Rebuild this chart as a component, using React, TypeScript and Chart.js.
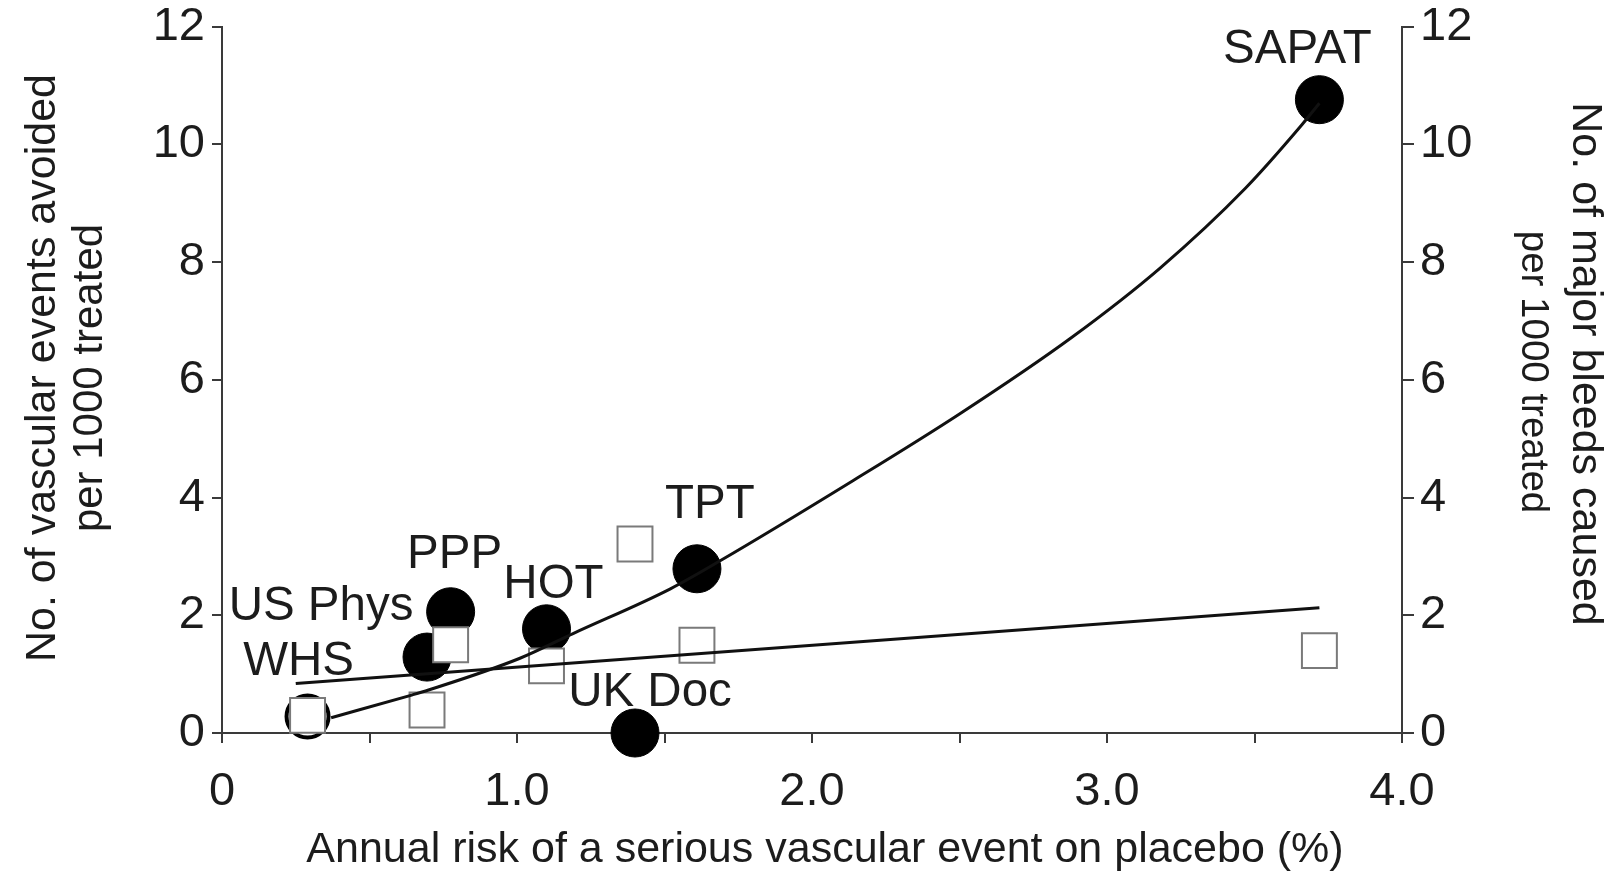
import React, { useEffect, useRef } from 'react';
import { Chart, registerables } from 'chart.js';

Chart.register(...registerables);

// ---------- data ----------
const trials = ['WHS', 'US Phys', 'PPP', 'HOT', 'UK Doc', 'TPT', 'SAPAT'];
const placeboRisk = [0.29, 0.695, 0.775, 1.10, 1.40, 1.61, 3.72];
const eventsAvoided = [0.28, 1.29, 2.06, 1.77, 0.0, 2.79, 10.76];
const bleedsCaused = [0.30, 0.39, 1.50, 1.14, 3.21, 1.49, 1.40];

// fitted curve (benefit)
const benefitFitX = [0.37, 0.64, 0.70, 1.01, 1.19, 1.52, 1.69, 2.14, 2.50, 2.88, 3.18, 3.47, 3.66, 3.72];
const benefitFitY = [0.26, 0.64, 0.73, 1.27, 1.69, 2.45, 2.93, 4.29, 5.42, 6.72, 7.90, 9.26, 10.33, 10.70];
// fitted line (bleeds)
const bleedFitX = [0.25, 3.72];
const bleedFitY = [0.84, 2.13];

const xTickValues = [0, 0.5, 1, 1.5, 2, 2.5, 3, 3.5, 4];
const xTickLabels = ['0', '', '1.0', '', '2.0', '', '3.0', '', '4.0'];
const yTickValues = [0, 2, 4, 6, 8, 10, 12];
const yTickLabels = ['0', '2', '4', '6', '8', '10', '12'];

const xTitle = 'Annual risk of a serious vascular event on placebo (%)';
const yLeftTitle = ['No. of vascular events avoided', 'per 1000 treated'];
const yRightTitle = ['No. of major bleeds caused', 'per 1000 treated'];

// ---------- style ----------
const W = 1613;
const H = 871;
const FONT = '"Liberation Sans", Arial, Helvetica, sans-serif';
const AXIS_COLOR = '#3a3a3a';
const TEXT_COLOR = '#1c1c1c';
const LABEL_OFFSETS: [number, number][] = [
  [-9, -42],
  [-106, -37],
  [4, -44],
  [7, -31],
  [15, -27],
  [13, -51],
  [-22, -37],
];
// rotated axis titles: [baselineX, centerY, fontSize] per line
const LEFT_TITLE_POS: [number, number, number][] = [
  [55, 368, 43],
  [102, 378, 42],
];
const RIGHT_TITLE_POS: [number, number, number][] = [
  [1573, 364, 43],
  [1522, 372, 38.5],
];
// x title: [centerX, baselineY, fontSize]
const X_TITLE_POS: [number, number, number] = [825, 862, 43];

const labelPlugin = {
  id: 'trialLabels',
  afterDatasetsDraw(chart: any) {
    const meta = chart.getDatasetMeta(0);
    const ctx = chart.ctx;
    ctx.save();
    ctx.font = `47.5px ${FONT}`;
    ctx.fillStyle = TEXT_COLOR;
    ctx.textAlign = 'center';
    ctx.textBaseline = 'alphabetic';
    meta.data.forEach((pt: any, i: number) => {
      const [dx, dy] = LABEL_OFFSETS[i];
      ctx.fillText(trials[i], pt.x + dx, pt.y + dy);
    });
    ctx.restore();
  },
};

const axisTitlesPlugin = {
  id: 'axisTitles',
  afterDraw(chart: any) {
    const ctx = chart.ctx;
    const draw = (lines: string[], pos: [number, number, number][], angle: number) => {
      lines.forEach((line, i) => {
        const [bx, cy, size] = pos[i];
        ctx.save();
        ctx.translate(bx, cy);
        ctx.rotate(angle);
        ctx.font = `${size}px ${FONT}`;
        ctx.fillStyle = TEXT_COLOR;
        ctx.textAlign = 'center';
        ctx.textBaseline = 'alphabetic';
        ctx.fillText(line, 0, 0);
        ctx.restore();
      });
    };
    draw(yLeftTitle, LEFT_TITLE_POS, -Math.PI / 2);
    draw(yRightTitle, RIGHT_TITLE_POS, Math.PI / 2);
    ctx.save();
    ctx.font = `${X_TITLE_POS[2]}px ${FONT}`;
    ctx.fillStyle = TEXT_COLOR;
    ctx.textAlign = 'center';
    ctx.textBaseline = 'alphabetic';
    ctx.fillText(xTitle, X_TITLE_POS[0], X_TITLE_POS[1]);
    ctx.restore();
  },
};

export default function App() {
  const ref = useRef<HTMLCanvasElement | null>(null);

  useEffect(() => {
    document.body.style.margin = '0';
    document.body.style.overflow = 'hidden';
    const canvas = ref.current;
    if (!canvas) return;

    const circlePoints = placeboRisk.map((x, i) => ({ x, y: eventsAvoided[i] }));
    const squarePoints = placeboRisk.map((x, i) => ({ x, y: bleedsCaused[i] }));
    const benefitCurve = benefitFitX.map((x, i) => ({ x, y: benefitFitY[i] }));
    const bleedLine = bleedFitX.map((x, i) => ({ x, y: bleedFitY[i] }));

    const gridOpts = (len: number) => ({
      drawOnChartArea: false,
      drawTicks: true,
      tickLength: len,
      color: AXIS_COLOR,
      lineWidth: 2,
    });
    const borderOpts = { display: true, color: AXIS_COLOR, width: 2 };

    const chart = new Chart(canvas, {
      type: 'scatter',
      data: {
        datasets: [
          {
            label: 'Vascular events avoided',
            data: circlePoints,
            yAxisID: 'y',
            pointStyle: 'circle',
            pointRadius: trials.map((t) => (t === 'WHS' ? 21 : 24)),
            pointBorderWidth: trials.map((t) => (t === 'WHS' ? 4 : 1)),
            pointBackgroundColor: trials.map((t) => (t === 'WHS' ? '#ffffff' : '#000000')),
            pointBorderColor: '#000000',
            showLine: false,
            clip: false,
            order: 3,
          } as any,
          {
            label: 'Major bleeds caused',
            data: squarePoints,
            yAxisID: 'y1',
            pointStyle: 'rect',
            pointRadius: 24.7,
            pointBorderWidth: 2,
            pointBackgroundColor: '#ffffff',
            pointBorderColor: '#7a7a7a',
            showLine: false,
            clip: false,
            order: 2,
          } as any,
          {
            label: 'Benefit fit',
            data: benefitCurve,
            yAxisID: 'y',
            showLine: true,
            pointRadius: 0,
            borderColor: '#111111',
            borderWidth: 3,
            cubicInterpolationMode: 'monotone',
            fill: false,
            clip: false,
            order: 1,
          } as any,
          {
            label: 'Bleed fit',
            data: bleedLine,
            yAxisID: 'y1',
            showLine: true,
            pointRadius: 0,
            borderColor: '#111111',
            borderWidth: 3,
            fill: false,
            clip: false,
            order: 1,
          } as any,
        ],
      },
      options: {
        responsive: false,
        animation: false,
        events: [],
        layout: { padding: { top: 25, left: 0, right: 0, bottom: 0 } },
        plugins: {
          legend: { display: false },
          tooltip: { enabled: false },
          title: { display: false },
        },
        scales: {
          x: {
            type: 'linear',
            position: 'bottom',
            min: 0,
            max: 4,
            afterBuildTicks: (s: any) => {
              s.ticks = xTickValues.map((v) => ({ value: v }));
            },
            afterFit: (s: any) => {
              s.height = H - 733;
            },
            grid: gridOpts(10),
            border: borderOpts,
            ticks: {
              autoSkip: false,
              maxRotation: 0,
              minRotation: 0,
              padding: 21,
              color: TEXT_COLOR,
              font: { family: FONT, size: 47, lineHeight: 1.2 },
              callback: (_v: any, i: number) => xTickLabels[i],
            },
            title: { display: false },
          },
          y: {
            type: 'linear',
            position: 'left',
            min: 0,
            max: 12,
            afterBuildTicks: (s: any) => {
              s.ticks = yTickValues.map((v) => ({ value: v }));
            },
            afterFit: (s: any) => {
              s.width = 222;
            },
            grid: gridOpts(10),
            border: borderOpts,
            ticks: {
              autoSkip: false,
              padding: 7,
              color: TEXT_COLOR,
              font: { family: FONT, size: 47, lineHeight: 0.7 },
              callback: (_v: any, i: number) => yTickLabels[i],
            },
            title: { display: false },
          },
          y1: {
            type: 'linear',
            position: 'right',
            min: 0,
            max: 12,
            afterBuildTicks: (s: any) => {
              s.ticks = yTickValues.map((v) => ({ value: v }));
            },
            afterFit: (s: any) => {
              s.width = W - 1402;
            },
            grid: gridOpts(12),
            border: borderOpts,
            ticks: {
              autoSkip: false,
              padding: 6,
              color: TEXT_COLOR,
              font: { family: FONT, size: 47, lineHeight: 0.7 },
              callback: (_v: any, i: number) => yTickLabels[i],
            },
            title: { display: false },
          },
        },
      } as any,
      plugins: [labelPlugin, axisTitlesPlugin],
    });

    return () => {
      chart.destroy();
    };
  }, []);

  return (
    <div style={{ position: 'absolute', left: 0, top: 0, width: W, height: H, background: '#ffffff' }}>
      <canvas ref={ref} width={W} height={H} style={{ display: 'block', width: W, height: H }} />
    </div>
  );
}
